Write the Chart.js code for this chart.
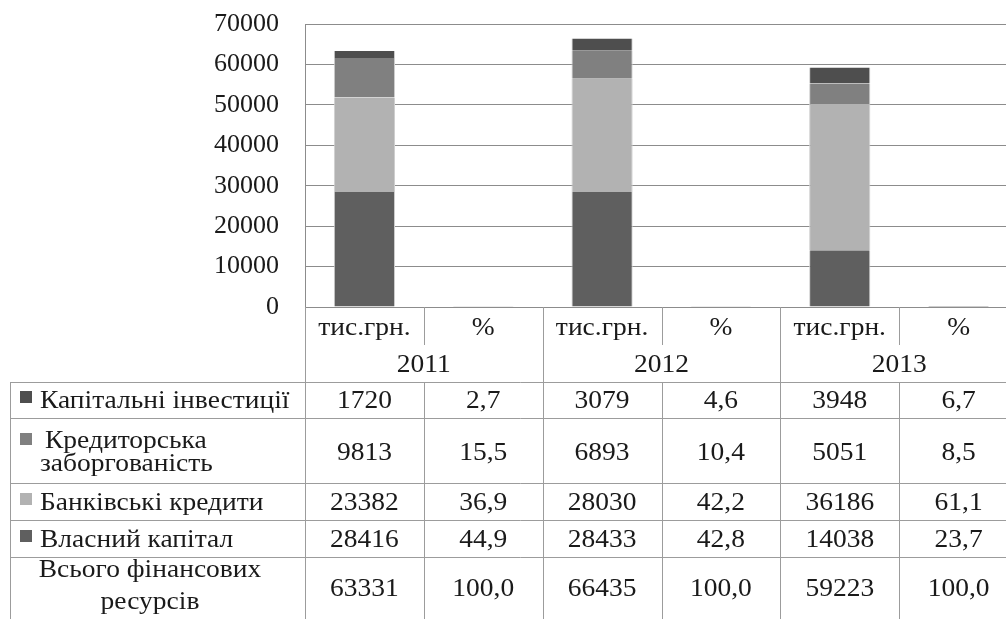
<!DOCTYPE html>
<html>
<head>
<meta charset="utf-8">
<script src="https://cdn.jsdelivr.net/npm/chart.js@4/dist/chart.umd.min.js"></script>
<style>
  html, body { margin: 0; padding: 0; background: #fff; overflow: hidden; }
  #wrap { width: 1006px; height: 619px; overflow: hidden; }
</style>
</head>
<body>
<div id="wrap"><canvas id="chart" width="1030" height="619"></canvas></div>
<script>
// categories
const units = ["тис.грн.", "%", "тис.грн.", "%", "тис.грн.", "%"];
const years = ["2011", "2012", "2013"];

// series (per column: 2011 тис.грн., 2011 %, 2012 ..., 2013 ...)
const kapInvest = [1720, 2.7, 3079, 4.6, 3948, 6.7];
const kredZaborg = [9813, 15.5, 6893, 10.4, 5051, 8.5];
const bankKredit = [23382, 36.9, 28030, 42.2, 36186, 61.1];
const vlasnyi = [28416, 44.9, 28433, 42.8, 14038, 23.7];
const total = [63331, 100.0, 66435, 100.0, 59223, 100.0];

// table row labels (split into lines as in the picture)
const rowLabels = [
  ["Капітальні інвестиції"],
  ["Кредиторська", "заборгованість"],
  ["Банківські кредити"],
  ["Власний капітал"],
  ["Всього фінансових", "ресурсів"]
];

// y axis
const yMin = 0, yMax = 70000, yStep = 10000;

const colors = {
  kap: "#4e4e4e",
  kred: "#808080",
  bank: "#b2b2b2",
  vlas: "#5f5f5f"
};

const FONT = '"Liberation Serif", "Times New Roman", serif';
const SX = 1.1; // the original text is a bit stretched sideways

function put(ctx, s, x, y, align) {
  ctx.save();
  ctx.translate(x, y);
  ctx.scale(SX, 1);
  ctx.textAlign = align;
  ctx.textBaseline = "alphabetic";
  ctx.fillText(s, 0, 0);
  ctx.restore();
}

function fmt(v, col) {
  return col % 2 === 0 ? String(v) : v.toFixed(1).replace(".", ",");
}

// draws the header rows and the data table under the plot
const tablePlugin = {
  id: "dataTable",
  afterDraw(chart) {
    const ctx = chart.ctx;
    const xs = chart.scales.x;
    const base = chart.chartArea.bottom;
    const bottom = chart.height;
    const colW = xs.getPixelForValue(1) - xs.getPixelForValue(0);
    const edge = i => Math.round(xs.getPixelForValue(i) - colW / 2) + 0.5;
    const mid = i => xs.getPixelForValue(i);

    const unitBottom = 345, yearBottom = 382;
    const rowTops = [382, 418, 483, 520, 557];
    const tableLeft = 10.5;

    ctx.save();
    ctx.strokeStyle = "#9c9c9c";
    ctx.lineWidth = 1;
    ctx.beginPath();
    // column separators
    for (let i = 0; i <= units.length; i++) {
      const x = edge(i);
      ctx.moveTo(x, base);
      ctx.lineTo(x, i % 2 === 1 ? unitBottom : bottom);
      if (i % 2 === 1) { ctx.moveTo(x, yearBottom); ctx.lineTo(x, bottom); }
    }
    // table rows
    rowTops.forEach(t => {
      ctx.moveTo(tableLeft, t + 0.5);
      ctx.lineTo(chart.width, t + 0.5);
    });
    ctx.moveTo(tableLeft, rowTops[0]);
    ctx.lineTo(tableLeft, bottom);
    ctx.stroke();

    ctx.fillStyle = "#1a1a1a";
    ctx.font = "25px " + FONT;
    units.forEach((u, i) => put(ctx, u, mid(i), 335, "center"));
    years.forEach((y, i) => put(ctx, y, (mid(2 * i) + mid(2 * i + 1)) / 2, 372, "center"));

    const rows = [kapInvest, kredZaborg, bankKredit, vlasnyi, total];
    const swatch = [colors.kap, colors.kred, colors.bank, colors.vlas, null];
    const numBase = [408, 460, 510, 547, 596];
    const lineBase = [[408], [448, 471], [510], [547], [577, 609]];

    rows.forEach((vals, r) => {
      vals.forEach((v, c) => put(ctx, fmt(v, c), mid(c), numBase[r], "center"));
      if (swatch[r]) {
        ctx.fillStyle = swatch[r];
        ctx.fillRect(20, numBase[r] === 460 ? 433 : numBase[r] - 17, 12, 12);
        ctx.fillStyle = "#1a1a1a";
        rowLabels[r].forEach((s, k) => {
          const x = (r === 1 && k === 0) ? 45 : 40;
          put(ctx, s, x, lineBase[r][k], "left");
        });
      } else {
        rowLabels[r].forEach((s, k) => put(ctx, s, 150, lineBase[r][k], "center"));
      }
    });
    ctx.restore();
  }
};

const side = { left: 1, right: 1, top: 0, bottom: 0 };
function ds(label, data, color) {
  return {
    label: label,
    data: data,
    backgroundColor: color,
    borderColor: "#cfcfcf",
    borderWidth: side,
    borderSkipped: false,
    categoryPercentage: 1,
    barPercentage: 0.515
  };
}

new Chart(document.getElementById("chart"), {
  type: "bar",
  data: {
    labels: units,
    datasets: [
      ds("Власний капітал", vlasnyi, colors.vlas),
      ds("Банківські кредити", bankKredit, colors.bank),
      ds("Кредиторська заборгованість", kredZaborg, colors.kred),
      ds("Капітальні інвестиції", kapInvest, colors.kap)
    ]
  },
  options: {
    responsive: false,
    animation: false,
    layout: { padding: { left: 0, top: 24, right: 12, bottom: 312 } },
    plugins: {
      legend: { display: false },
      tooltip: { enabled: false }
    },
    scales: {
      x: {
        display: false,
        stacked: true
      },
      y: {
        stacked: true,
        min: yMin,
        max: yMax,
        afterFit: s => {
          s.width = 305;
          // tick padding is only meant to be horizontal here
          s.paddingTop = 0;
          s.paddingBottom = 0;
        },
        grid: { color: "#8c8c8c", lineWidth: 1, drawTicks: false },
        border: { display: true, color: "#8c8c8c" },
        ticks: {
          stepSize: yStep,
          padding: 26,
          color: "#1a1a1a",
          font: { family: FONT, size: 26 },
          callback: v => String(v)
        }
      }
    }
  },
  plugins: [tablePlugin]
});
</script>
</body>
</html>
